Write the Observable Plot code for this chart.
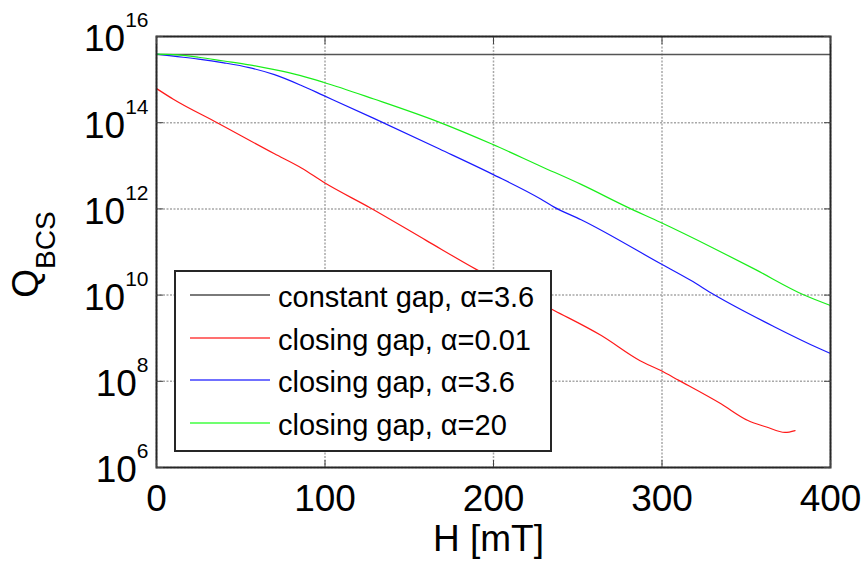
<!DOCTYPE html>
<html><head><meta charset="utf-8">
<script src="https://cdn.jsdelivr.net/npm/d3@7"></script>
<script src="https://cdn.jsdelivr.net/npm/@observablehq/plot@0.6"></script>
<style>
html,body{margin:0;padding:0;background:#fff;}
#wrap{position:relative;width:865px;height:561px;font-family:"Liberation Sans",Arial,sans-serif;}
#legend{position:absolute;left:174px;top:270px;width:378px;height:182px;box-sizing:border-box;border:2px solid #262626;background:#fff;}
.row-line{position:absolute;left:14px;width:80px;height:2px;}
.row-text{position:absolute;left:102px;font-size:29px;line-height:29px;white-space:nowrap;color:#000;}
</style></head><body><div id="wrap"></div>
<script>
// ---- data ----
const xTicks = [0, 100, 200, 300, 400];
const yTicks = [1e6, 1e8, 1e10, 1e12, 1e14, 1e16];

const constQ = 3.8e15; // constant gap, alpha=3.6

const H_red = [0, 10, 36, 70, 86, 99, 127, 160, 190, 213, 236, 264, 287, 299, 310, 335, 351, 362, 373, 379];
const Q_red = [6.2e14, 3.5e14, 1.0e14, 1.9e13, 8.9e12, 4.2e12, 1.05e12, 1.86e11, 3.9e10, 1.3e10, 4.4e9, 1.15e9, 3.0e8, 1.8e8, 1.05e8, 3.0e7, 1.23e7, 8.7e6, 6.5e6, 7.2e6];

const H_blue = [0, 10, 25, 40, 55, 70, 86, 99, 129, 168, 199, 228, 236, 252, 299, 317, 331, 366, 394, 400];
const Q_blue = [3.9e15, 3.5e15, 3.0e15, 2.45e15, 1.9e15, 1.3e15, 7.3e14, 4.3e14, 1.26e14, 2.45e13, 6.5e12, 1.7e12, 1.1e12, 5.6e11, 5.4e10, 2.2e10, 1.02e10, 1.9e9, 5.6e8, 4.4e8];

const H_green = [0, 10, 25, 40, 55, 70, 85, 99, 129, 168, 199, 228, 252, 280, 299, 330, 355, 384, 400];
const Q_green = [3.9e15, 3.8e15, 3.3e15, 2.7e15, 2.2e15, 1.7e15, 1.25e15, 8.7e14, 3.55e14, 1.02e14, 3.2e13, 9.8e12, 3.7e12, 1.07e12, 4.9e11, 1.26e11, 4.0e10, 1.02e10, 5.75e9];

const legendLabels = ["constant gap, α=3.6", "closing gap, α=0.01", "closing gap, α=3.6", "closing gap, α=20"];
const legendColors = ["#7a7a7a", "#ff7070", "#7070ff", "#70ff70"];

const rows = (H, Q) => H.map((h, i) => ({H: h, Q: Q[i]}));

const FONT = '"Liberation Sans", Arial, sans-serif';
const gridStyle = {stroke: "#a8a8a8", strokeOpacity: 1, strokeWidth: 1.5, strokeDasharray: "2,1.5"};

const chart = Plot.plot({
  width: 865, height: 561,
  marginLeft: 156, marginRight: 35, marginTop: 36, marginBottom: 94,
  style: {fontFamily: FONT, fontSize: "37px", color: "#000", background: "transparent", overflow: "visible"},
  x: {domain: [0, 400]},
  y: {type: "log", domain: [1e6, 1e16]},
  marks: [
    Plot.gridX(xTicks, gridStyle),
    Plot.gridY(yTicks, gridStyle),
    Plot.ruleY([constQ], {stroke: "#555", strokeWidth: 1.5}),
    Plot.line(rows(H_red, Q_red), {x: "H", y: "Q", stroke: "#ff1a1a", strokeWidth: 1.2, curve: "monotone-x"}),
    Plot.line(rows(H_blue, Q_blue), {x: "H", y: "Q", stroke: "#1a1aff", strokeWidth: 1.2, curve: "monotone-x"}),
    Plot.line(rows(H_green, Q_green), {x: "H", y: "Q", stroke: "#1aee1a", strokeWidth: 1.2, curve: "monotone-x"}),
    Plot.frame({stroke: "#262626", strokeWidth: 2}),
    Plot.axisX(xTicks, {anchor: "bottom", tickSize: -7, tickPadding: 24, stroke: "#444", label: null}),
    Plot.axisX(xTicks, {anchor: "top", tickSize: -7, tickFormat: () => "", stroke: "#444", label: null}),
    Plot.axisY(yTicks, {anchor: "left", tickSize: -7, tickPadding: 15, stroke: "#444", label: null,
      tickFormat: d => "10^" + Math.round(Math.log10(d))}),
    Plot.axisY(yTicks, {anchor: "right", tickSize: -7, tickFormat: () => "", stroke: "#444", label: null}),
    Plot.text(["H [mT]"], {frameAnchor: "bottom", text: d => d, dx: -5, dy: 71.5, lineAnchor: "middle", textAnchor: "middle", fontSize: 37}),
    Plot.text(["QBCS"], {frameAnchor: "left", text: d => d, rotate: -90, dx: -130, dy: 2.5, lineAnchor: "middle", textAnchor: "middle", fontSize: 37})
  ]
});

// superscripts / subscripts on real text
d3.select(chart).selectAll("text").each(function () {
  const t = this.textContent;
  const sel = d3.select(this);
  if (t.startsWith("10^")) {
    const exp = t.slice(3);
    sel.text(null);
    sel.append("tspan").attr("dy", 3).text("10");
    sel.append("tspan").attr("dy", -24).attr("font-size", 21).text(exp);
  } else if (t === "QBCS") {
    sel.text(null);
    sel.append("tspan").text("Q");
    sel.append("tspan").attr("dy", 17).attr("font-size", 28).text("BCS");
  }
});

const wrap = document.getElementById("wrap");
wrap.appendChild(chart);

// legend
const legend = document.createElement("div");
legend.id = "legend";
legendLabels.forEach((lab, i) => {
  const line = document.createElement("div");
  line.className = "row-line";
  line.style.top = Math.round(22 + i * 42.7) + "px";
  line.style.background = legendColors[i];
  const txt = document.createElement("div");
  txt.className = "row-text";
  txt.style.top = (10.8 + i * 42.7) + "px";
  txt.textContent = lab;
  legend.appendChild(line);
  legend.appendChild(txt);
});
wrap.appendChild(legend);
</script></body></html>
